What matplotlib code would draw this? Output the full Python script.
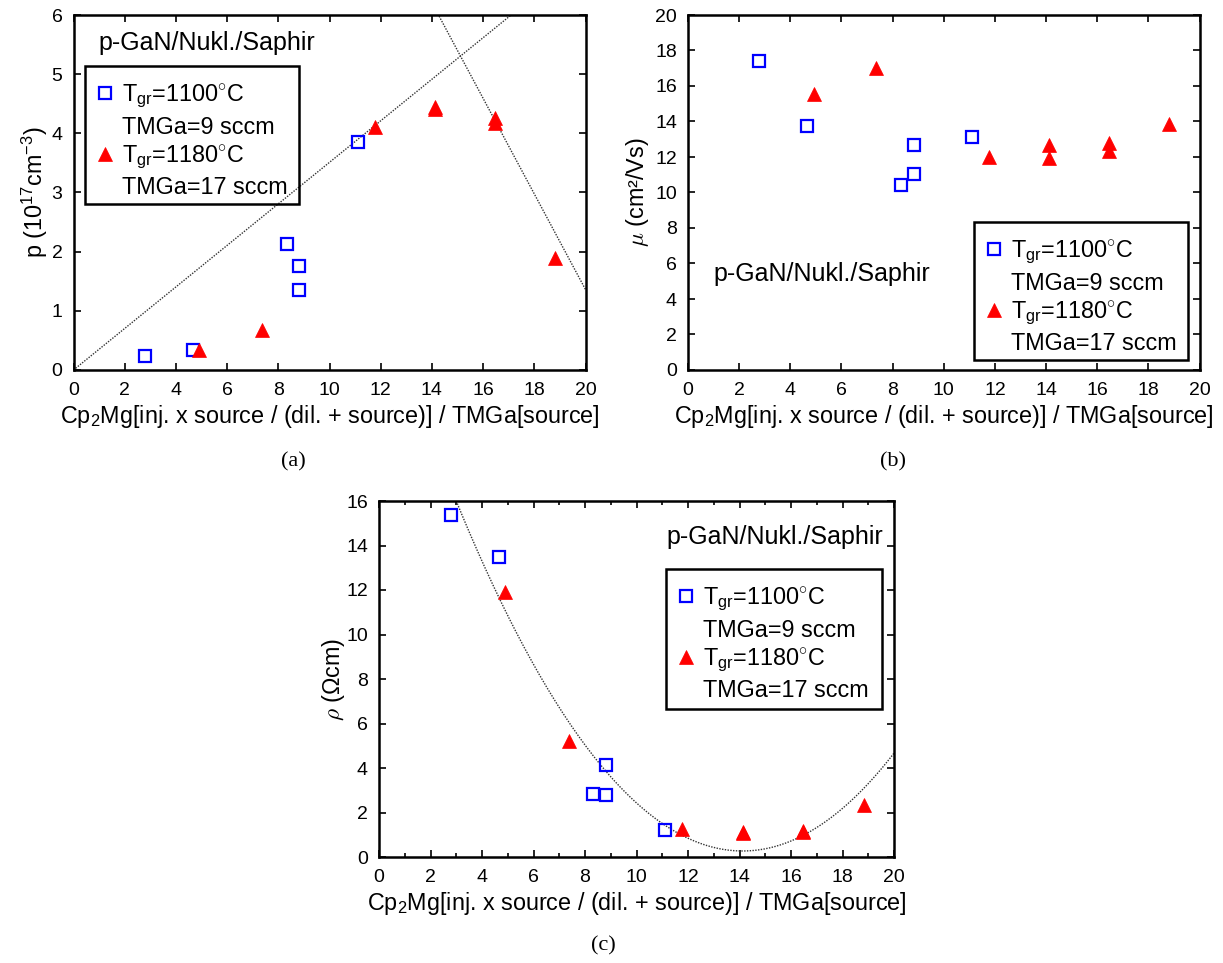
import numpy as np
import matplotlib
matplotlib.use("Agg")
import matplotlib.pyplot as plt
from matplotlib.lines import Line2D
from matplotlib.patches import Rectangle
from matplotlib.ticker import MultipleLocator

plt.rcParams["font.family"] = ["Liberation Sans", "DejaVu Sans"]
plt.rcParams["mathtext.fontset"] = "custom"
plt.rcParams["mathtext.rm"] = "Liberation Sans"
plt.rcParams["mathtext.it"] = "Liberation Sans:italic"
plt.rcParams["mathtext.bf"] = "Liberation Sans:bold"

# Cp2Mg / TMGa ratio for the two growth series
x_1100 = [2.78, 4.65, 8.33, 8.82, 8.82, 11.12]
x_1180 = [4.91, 7.37, 11.78, 14.12, 14.12, 16.47, 16.47, 18.82]

# hole concentration p (1e17 cm^-3)
p_1100 = [0.23, 0.33, 2.13, 1.76, 1.36, 3.85]
p_1180 = [0.33, 0.68, 4.10, 4.45, 4.41, 4.26, 4.17, 1.90]

# hole mobility mu (cm^2/Vs)
mu_1100 = [17.43, 13.73, 10.42, 12.69, 11.06, 13.13]
mu_1180 = [15.55, 17.00, 12.02, 12.68, 11.96, 12.81, 12.32, 13.86]

# resistivity rho (Ohm cm)
rho_1100 = [15.37, 13.47, 2.82, 2.77, 4.15, 1.23]
rho_1180 = [11.90, 5.20, 1.24, 1.09, 1.12, 1.17, 1.12, 2.32]

# guide lines for p: rising line through origin, falling line at high ratio
rise_slope = 0.351
fall_slope, fall_intercept = -0.808, 17.52
# parabolic guide for rho: rho = a (x - x0)^2 + rho0
rho_a, rho_x0, rho_min = 0.1272, 14.12, 0.27

label_1100 = ["T$_{\\mathrm{gr}}$=1100$^{\\circ}$C", "TMGa=9 sccm"]
label_1180 = ["T$_{\\mathrm{gr}}$=1180$^{\\circ}$C", "TMGa=17 sccm"]
sample_text = "p-GaN/Nukl./Saphir"
xlabel_text = "Cp$_2$Mg[inj. x source / (dil. + source)] / TMGa[source]"

W, H = 1223, 963
fig = plt.figure(figsize=(W / 100, H / 100), dpi=100)


def add_axes_px(left, top, right, bottom):
    ax = fig.add_axes([left / W, 1 - bottom / H, (right - left) / W, (bottom - top) / H])
    ax._px_box = (left, top, right, bottom)
    return ax


def px_to_axes(ax, x, y):
    left, top, right, bottom = ax._px_box
    return (x - left) / (right - left), (bottom - y) / (bottom - top)


ax_a = add_axes_px(73.5, 15, 585.5, 370)
ax_b = add_axes_px(688, 15, 1199.5, 370)
ax_c = add_axes_px(379, 501, 894, 857)

sq_style = dict(linestyle="none", marker="s", markersize=8, markerfacecolor="none",
                markeredgecolor="#0000ff", markeredgewidth=1.6)
tri_style = dict(linestyle="none", marker="^", markersize=9.5, markerfacecolor="#ff0000",
                 markeredgecolor="#ff0000", markeredgewidth=0.5)
guide_style = dict(color="#333333", linestyle=(0, (1, 1)), linewidth=1.0)


def style_axes(ax, ymax, ystep, xminor=None):
    ax.set_xlim(0, 20)
    ax.set_ylim(0, ymax)
    ax.xaxis.set_major_locator(MultipleLocator(2))
    ax.yaxis.set_major_locator(MultipleLocator(ystep))
    if xminor:
        ax.xaxis.set_minor_locator(MultipleLocator(xminor))
    ax.tick_params(which="both", direction="in", top=True, right=True, labelsize=14,
                   width=1.2, colors="black")
    ax.tick_params(which="major", length=5)
    ax.tick_params(which="minor", length=3)
    ax.tick_params(axis="x", pad=8.5)
    ax.tick_params(axis="y", pad=8)
    for s in ax.spines.values():
        s.set_linewidth(1.8)
    ax.text(0.5, -0.13, xlabel_text, transform=ax.transAxes, ha="center", va="center",
            fontsize=16.8)


def add_legend(ax, box_px):
    """Legend with a separately drawn frame given in figure pixels (l, t, r, b)."""
    l, t, r, b = box_px
    handles = [
        Line2D([], [], **sq_style),
        Line2D([], [], linestyle="none"),
        Line2D([], [], **tri_style),
        Line2D([], [], linestyle="none"),
    ]
    labels = [label_1100[0], label_1100[1], label_1180[0], label_1180[1]]
    ax.legend(handles, labels, loc="upper left",
              bbox_to_anchor=px_to_axes(ax, l + 9, t + 17),
              bbox_transform=ax.transAxes, fontsize=16.8, frameon=False,
              handlelength=0.9, handletextpad=0.32, labelspacing=0.22,
              borderpad=0, borderaxespad=0, numpoints=1)
    x0, y1 = px_to_axes(ax, l, t)
    x1, y0 = px_to_axes(ax, r, b)
    ax.add_patch(Rectangle((x0, y0), x1 - x0, y1 - y0, transform=ax.transAxes,
                           facecolor="none", edgecolor="black", linewidth=1.8,
                           zorder=6, clip_on=False))


# (a) hole concentration
xs = np.linspace(0, 20, 200)
ax_a.plot(xs, rise_slope * xs, **guide_style)
ax_a.plot(xs, fall_slope * xs + fall_intercept, **guide_style)
ax_a.plot(x_1100, p_1100, **sq_style, zorder=3)
ax_a.plot(x_1180, p_1180, **tri_style, zorder=3)
style_axes(ax_a, 6, 1)
ax_a.text(0.049, 0.92, sample_text, transform=ax_a.transAxes, fontsize=18,
          ha="left", va="center")
add_legend(ax_a, (85, 66, 299, 204))
ax_a.text(-0.076, 0.5, "p (10$^{17}$cm$^{-3}$)", transform=ax_a.transAxes,
          rotation=90, ha="center", va="center", fontsize=16.8)

# (b) mobility
ax_b.plot(x_1100, mu_1100, **sq_style, zorder=3)
ax_b.plot(x_1180, mu_1180, **tri_style, zorder=3)
style_axes(ax_b, 20, 2)
ax_b.text(0.05, 0.27, sample_text, transform=ax_b.transAxes, fontsize=18,
          ha="left", va="center")
add_legend(ax_b, (974, 222, 1188, 360))
ax_b.text(-0.099, 0.5, r"$\mu$ (cm²/Vs)", transform=ax_b.transAxes,
          rotation=90, ha="center", va="center", fontsize=16.8, math_fontfamily="cm")

# (c) resistivity
ax_c.plot(xs, rho_a * (xs - rho_x0) ** 2 + rho_min, **guide_style)
ax_c.plot(x_1100, rho_1100, **sq_style, zorder=3)
ax_c.plot(x_1180, rho_1180, **tri_style, zorder=3)
style_axes(ax_c, 16, 2, xminor=1)
ax_c.text(0.98, 0.9, sample_text, transform=ax_c.transAxes, fontsize=18,
          ha="right", va="center")
add_legend(ax_c, (666, 569, 882, 709))
ax_c.text(-0.088, 0.5, r"$\rho$ (Ωcm)", transform=ax_c.transAxes,
          rotation=90, ha="center", va="center", fontsize=16.8, math_fontfamily="cm")

# sub-figure captions
cap = dict(fontsize=16, family=["Liberation Serif", "DejaVu Serif"], ha="center", va="center")
fig.text(293 / W, 1 - 462 / H, "(a)", **cap)
fig.text(893 / W, 1 - 462 / H, "(b)", **cap)
fig.text(603 / W, 1 - 946 / H, "(c)", **cap)

fig.savefig("out.png", dpi=100, facecolor="white")
